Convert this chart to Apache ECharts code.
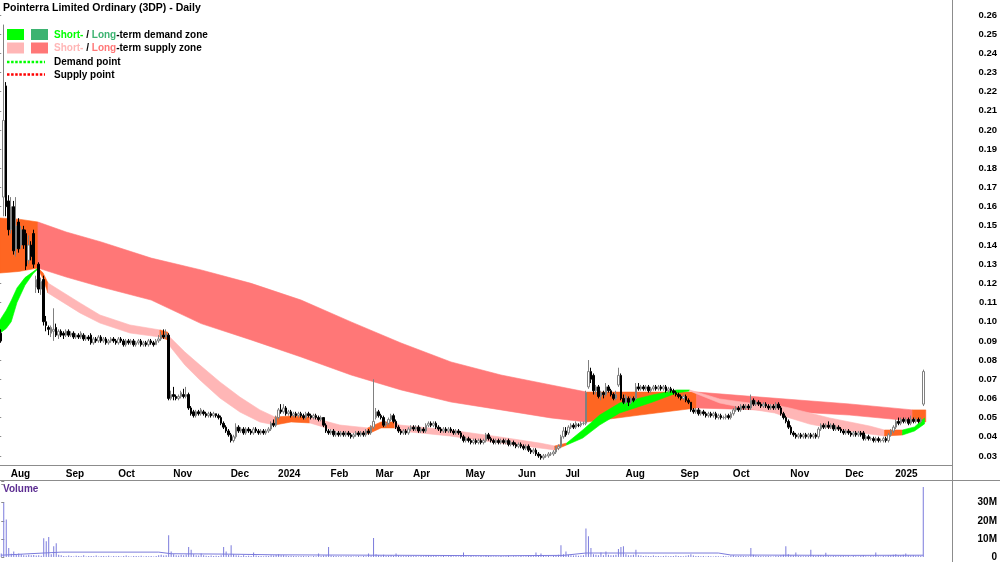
<!DOCTYPE html>
<html>
<head>
<meta charset="utf-8">
<script src="https://cdn.jsdelivr.net/npm/echarts/dist/echarts.min.js"></script>
<style>
html,body{margin:0;padding:0;background:#fff;}
#chart{width:1000px;height:562px;}
</style>
</head>
<body>
<div id="chart"></div>
<script>
// daily candles, one array per month: [open, close, low, high]
var jul23 = [[0.094,0.090,0.089,0.096],[0.165,0.205,0.155,0.255],[0.223,0.160,0.155,0.225]];
var aug23 = [[0.163,0.148,0.145,0.166],[0.148,0.160,0.146,0.165],[0.160,0.137,0.135,0.163],[0.138,0.150,0.134,0.165],
  [0.152,0.138,0.136,0.154],[0.140,0.148,0.138,0.150],[0.148,0.140,0.138,0.150],[0.146,0.129,0.127,0.148],
  [0.132,0.140,0.130,0.145],[0.140,0.134,0.132,0.142],[0.146,0.130,0.128,0.148],[0.118,0.122,0.115,0.124],
  [0.130,0.117,0.115,0.131],[0.117,0.121,0.114,0.123],[0.122,0.100,0.098,0.124],[0.100,0.098,0.095,0.103],
  [0.097,0.096,0.093,0.098],[0.094,0.097,0.092,0.098],[0.095,0.096,0.090,0.107],[0.097,0.093,0.092,0.099],
  [0.093,0.095,0.091,0.096],[0.095,0.093,0.092,0.096]];
var sep23 = [[0.094,0.093,0.091,0.095],[0.093,0.095,0.092,0.096],[0.095,0.093,0.092,0.096],[0.093,0.094,0.092,0.095],
  [0.094,0.092,0.091,0.095],[0.092,0.093,0.091,0.094],[0.093,0.092,0.091,0.094],[0.092,0.094,0.091,0.095],
  [0.093,0.091,0.090,0.094],[0.091,0.092,0.090,0.093],[0.092,0.091,0.090,0.093],[0.093,0.089,0.088,0.094],
  [0.089,0.091,0.088,0.092],[0.091,0.090,0.089,0.092],[0.090,0.092,0.089,0.093],[0.092,0.090,0.089,0.093],
  [0.090,0.091,0.089,0.092],[0.091,0.089,0.088,0.092],[0.089,0.090,0.088,0.091],[0.090,0.091,0.089,0.092],
  [0.091,0.090,0.089,0.092]];
var oct23 = [[0.090,0.089,0.088,0.091],[0.089,0.091,0.088,0.092],[0.091,0.090,0.089,0.092],[0.090,0.088,0.087,0.091],
  [0.088,0.090,0.087,0.091],[0.090,0.089,0.088,0.091],[0.089,0.090,0.088,0.091],[0.090,0.088,0.087,0.091],
  [0.088,0.089,0.087,0.090],[0.089,0.090,0.088,0.091],[0.090,0.088,0.087,0.091],[0.088,0.089,0.087,0.090],
  [0.089,0.088,0.087,0.090],[0.088,0.090,0.087,0.091],[0.090,0.089,0.088,0.091],[0.089,0.088,0.087,0.090],
  [0.088,0.090,0.088,0.091],[0.090,0.091,0.089,0.093],[0.091,0.093,0.090,0.095],[0.093,0.092,0.091,0.096],
  [0.092,0.094,0.091,0.096],[0.093,0.060,0.059,0.094]];
var nov23 = [[0.060,0.062,0.059,0.064],[0.062,0.061,0.059,0.066],[0.061,0.060,0.059,0.062],[0.060,0.061,0.059,0.062],
  [0.061,0.063,0.060,0.064],[0.062,0.061,0.060,0.065],[0.061,0.062,0.060,0.066],[0.062,0.055,0.054,0.063],
  [0.055,0.052,0.051,0.056],[0.053,0.051,0.050,0.054],[0.051,0.053,0.050,0.054],[0.053,0.052,0.051,0.054],
  [0.052,0.054,0.051,0.055],[0.053,0.052,0.051,0.054],[0.052,0.051,0.050,0.053],[0.051,0.052,0.050,0.053],
  [0.052,0.051,0.050,0.053],[0.051,0.052,0.050,0.053],[0.052,0.051,0.050,0.052],[0.051,0.050,0.049,0.052],
  [0.050,0.047,0.046,0.051],[0.047,0.045,0.044,0.048],[0.045,0.043,0.042,0.046]];
var dec23 = [[0.043,0.041,0.040,0.044],[0.041,0.038,0.037,0.042],[0.038,0.040,0.037,0.041],[0.040,0.045,0.039,0.047],
  [0.045,0.043,0.042,0.046],[0.043,0.044,0.042,0.045],[0.044,0.042,0.041,0.045],[0.042,0.044,0.041,0.045],
  [0.044,0.043,0.042,0.045],[0.043,0.042,0.041,0.044],[0.042,0.044,0.041,0.045],[0.044,0.043,0.042,0.045],
  [0.043,0.042,0.041,0.044],[0.042,0.043,0.041,0.044],[0.043,0.042,0.041,0.044],[0.042,0.043,0.041,0.044],
  [0.043,0.044,0.042,0.045],[0.044,0.047,0.043,0.048],[0.047,0.046,0.045,0.049]];
var jan24 = [[0.046,0.050,0.045,0.051],[0.050,0.054,0.049,0.055],[0.054,0.053,0.052,0.057],[0.053,0.055,0.052,0.057],
  [0.055,0.052,0.051,0.056],[0.052,0.053,0.051,0.054],[0.053,0.051,0.050,0.054],[0.051,0.052,0.050,0.053],
  [0.052,0.051,0.050,0.053],[0.051,0.052,0.050,0.053],[0.052,0.051,0.050,0.053],[0.051,0.050,0.049,0.052],
  [0.050,0.052,0.049,0.053],[0.052,0.051,0.050,0.053],[0.051,0.050,0.049,0.052],[0.050,0.051,0.049,0.052],
  [0.051,0.050,0.049,0.052],[0.050,0.049,0.048,0.051],[0.049,0.050,0.048,0.051],[0.050,0.046,0.045,0.050],
  [0.046,0.043,0.042,0.047]];
var feb24 = [[0.043,0.042,0.041,0.044],[0.042,0.043,0.041,0.044],[0.043,0.041,0.040,0.044],[0.041,0.042,0.040,0.043],
  [0.042,0.041,0.040,0.043],[0.041,0.042,0.040,0.043],[0.042,0.041,0.040,0.043],[0.041,0.042,0.040,0.043],
  [0.042,0.041,0.040,0.043],[0.041,0.040,0.039,0.042],[0.040,0.041,0.039,0.042],[0.041,0.042,0.040,0.043],
  [0.042,0.041,0.040,0.043],[0.041,0.042,0.040,0.043],[0.042,0.041,0.040,0.043],[0.041,0.043,0.040,0.044],
  [0.043,0.042,0.041,0.044],[0.042,0.045,0.041,0.046]];
var mar24 = [[0.045,0.048,0.044,0.070],[0.050,0.053,0.049,0.055],[0.053,0.051,0.050,0.054],[0.051,0.050,0.049,0.052],
  [0.050,0.046,0.045,0.051],[0.046,0.047,0.045,0.048],[0.047,0.049,0.046,0.050],[0.049,0.051,0.048,0.052],
  [0.051,0.048,0.047,0.052],[0.048,0.045,0.044,0.049],[0.045,0.043,0.042,0.046],[0.043,0.042,0.041,0.044],
  [0.042,0.043,0.041,0.044],[0.043,0.042,0.041,0.044],[0.042,0.044,0.041,0.045]];
var apr24 = [[0.044,0.045,0.043,0.046],[0.045,0.044,0.043,0.046],[0.044,0.045,0.043,0.046],[0.045,0.043,0.042,0.046],
  [0.043,0.044,0.042,0.045],[0.044,0.043,0.042,0.045],[0.043,0.046,0.042,0.047],[0.046,0.047,0.045,0.048],
  [0.047,0.046,0.045,0.048],[0.046,0.047,0.045,0.048],[0.047,0.045,0.044,0.048],[0.045,0.044,0.043,0.046],
  [0.044,0.043,0.042,0.045],[0.043,0.044,0.042,0.045],[0.044,0.043,0.042,0.045],[0.043,0.044,0.042,0.045],
  [0.044,0.043,0.042,0.045],[0.043,0.042,0.041,0.044],[0.042,0.043,0.041,0.044],[0.043,0.042,0.041,0.044],
  [0.042,0.040,0.039,0.043]];
var may24 = [[0.040,0.038,0.037,0.041],[0.038,0.039,0.037,0.040],[0.039,0.038,0.037,0.040],[0.038,0.037,0.036,0.039],
  [0.037,0.038,0.036,0.039],[0.038,0.037,0.036,0.039],[0.037,0.038,0.036,0.039],[0.038,0.037,0.036,0.039],
  [0.037,0.038,0.036,0.039],[0.038,0.041,0.037,0.042],[0.041,0.039,0.038,0.042],[0.039,0.038,0.037,0.040],
  [0.038,0.037,0.036,0.039],[0.037,0.038,0.036,0.039],[0.038,0.037,0.036,0.039],[0.037,0.038,0.036,0.039],
  [0.038,0.037,0.036,0.039],[0.037,0.038,0.036,0.039],[0.038,0.036,0.035,0.039],[0.036,0.037,0.035,0.038],
  [0.037,0.036,0.035,0.038]];
var jun24 = [[0.036,0.035,0.034,0.037],[0.035,0.036,0.034,0.037],[0.036,0.035,0.034,0.037],[0.035,0.034,0.033,0.036],
  [0.034,0.035,0.033,0.036],[0.035,0.033,0.032,0.036],[0.033,0.032,0.031,0.034],[0.032,0.033,0.031,0.034],
  [0.033,0.031,0.030,0.034],[0.031,0.030,0.029,0.032],[0.030,0.029,0.028,0.031],[0.029,0.030,0.028,0.031],
  [0.030,0.030,0.029,0.031],[0.030,0.031,0.029,0.032],[0.031,0.031,0.030,0.032],[0.031,0.032,0.030,0.033],
  [0.032,0.034,0.031,0.035],[0.034,0.035,0.033,0.036],[0.035,0.040,0.034,0.041]];
var jul24 = [[0.040,0.043,0.039,0.045],[0.043,0.041,0.040,0.045],[0.042,0.045,0.041,0.046],[0.045,0.046,0.044,0.047],
  [0.046,0.045,0.044,0.047],[0.045,0.047,0.044,0.048],[0.046,0.046,0.045,0.047],[0.046,0.047,0.045,0.048],
  [0.047,0.047,0.046,0.048],[0.047,0.063,0.046,0.064],[0.066,0.074,0.065,0.080],[0.074,0.070,0.068,0.076],
  [0.072,0.064,0.062,0.073],[0.064,0.066,0.062,0.067],[0.066,0.061,0.060,0.067],[0.061,0.063,0.059,0.064],
  [0.063,0.062,0.060,0.064],[0.062,0.066,0.061,0.068],[0.066,0.064,0.063,0.067],[0.064,0.062,0.061,0.065],
  [0.062,0.060,0.059,0.063],[0.060,0.062,0.059,0.064],[0.067,0.072,0.066,0.076],[0.072,0.060,0.059,0.073]];
var aug24 = [[0.060,0.058,0.057,0.062],[0.058,0.061,0.057,0.062],[0.060,0.058,0.056,0.061],[0.058,0.060,0.057,0.061],
  [0.060,0.059,0.058,0.061],[0.060,0.066,0.059,0.068],[0.066,0.065,0.064,0.068],[0.065,0.066,0.064,0.067],
  [0.066,0.065,0.064,0.067],[0.065,0.066,0.064,0.067],[0.066,0.064,0.063,0.067],[0.064,0.065,0.063,0.066],
  [0.065,0.066,0.064,0.067],[0.066,0.065,0.064,0.067],[0.065,0.066,0.064,0.067],[0.066,0.065,0.064,0.067],
  [0.065,0.066,0.064,0.067],[0.066,0.064,0.063,0.067],[0.064,0.065,0.063,0.066],[0.065,0.064,0.063,0.066],
  [0.064,0.063,0.062,0.065],[0.063,0.062,0.061,0.064]];
var sep24 = [[0.062,0.061,0.060,0.063],[0.061,0.060,0.059,0.062],[0.060,0.061,0.059,0.062],[0.061,0.059,0.058,0.062],
  [0.059,0.058,0.057,0.060],[0.058,0.054,0.053,0.058],[0.054,0.053,0.052,0.055],[0.053,0.054,0.052,0.055],
  [0.054,0.052,0.051,0.055],[0.052,0.053,0.051,0.054],[0.053,0.052,0.051,0.054],[0.052,0.051,0.050,0.053],
  [0.051,0.052,0.050,0.053],[0.052,0.051,0.050,0.053],[0.051,0.052,0.050,0.053],[0.052,0.050,0.049,0.053],
  [0.050,0.051,0.049,0.052],[0.051,0.050,0.049,0.052],[0.050,0.050,0.049,0.051],[0.050,0.051,0.049,0.052],
  [0.051,0.050,0.049,0.052]];
var oct24 = [[0.050,0.052,0.049,0.053],[0.052,0.054,0.051,0.055],[0.054,0.055,0.053,0.056],[0.055,0.054,0.053,0.056],
  [0.054,0.056,0.053,0.057],[0.056,0.055,0.054,0.057],[0.055,0.056,0.054,0.057],[0.056,0.055,0.054,0.057],
  [0.055,0.059,0.054,0.062],[0.059,0.057,0.056,0.060],[0.057,0.058,0.056,0.059],[0.058,0.057,0.056,0.059],
  [0.057,0.056,0.055,0.058],[0.056,0.057,0.055,0.058],[0.057,0.056,0.055,0.058],[0.056,0.055,0.054,0.057],
  [0.055,0.056,0.054,0.057],[0.056,0.055,0.054,0.057],[0.055,0.057,0.054,0.058],[0.057,0.055,0.054,0.058],
  [0.055,0.052,0.051,0.056],[0.052,0.050,0.049,0.053],[0.050,0.048,0.047,0.051]];
var nov24 = [[0.048,0.045,0.044,0.049],[0.045,0.042,0.041,0.046],[0.042,0.041,0.040,0.043],[0.041,0.040,0.039,0.042],
  [0.040,0.041,0.039,0.042],[0.041,0.040,0.039,0.042],[0.040,0.041,0.039,0.042],[0.041,0.040,0.039,0.042],
  [0.040,0.041,0.039,0.042],[0.041,0.040,0.039,0.042],[0.040,0.041,0.039,0.042],[0.041,0.040,0.039,0.042],
  [0.040,0.044,0.039,0.045],[0.044,0.046,0.043,0.047],[0.046,0.045,0.044,0.047],[0.045,0.046,0.044,0.047],
  [0.046,0.045,0.044,0.048],[0.045,0.046,0.044,0.047],[0.046,0.044,0.043,0.047],[0.044,0.045,0.043,0.046],
  [0.045,0.044,0.043,0.046],[0.044,0.043,0.042,0.045]];
var dec24 = [[0.043,0.042,0.041,0.044],[0.042,0.043,0.041,0.044],[0.043,0.042,0.041,0.044],[0.042,0.041,0.040,0.043],
  [0.041,0.042,0.040,0.043],[0.042,0.041,0.040,0.043],[0.041,0.042,0.040,0.043],[0.042,0.041,0.040,0.043],
  [0.042,0.039,0.038,0.043],[0.039,0.040,0.038,0.041],[0.040,0.039,0.038,0.041],[0.039,0.039,0.038,0.040],
  [0.039,0.038,0.037,0.040],[0.038,0.039,0.037,0.040],[0.039,0.038,0.037,0.040],[0.038,0.038,0.037,0.039],
  [0.038,0.039,0.037,0.040],[0.039,0.038,0.037,0.040],[0.038,0.041,0.037,0.042],[0.041,0.043,0.040,0.044]];
var jan25 = [[0.043,0.045,0.042,0.046],[0.045,0.048,0.044,0.049],[0.048,0.047,0.046,0.050],[0.047,0.049,0.046,0.050],
  [0.049,0.048,0.047,0.050],[0.048,0.049,0.047,0.050],[0.049,0.047,0.046,0.050],[0.047,0.049,0.046,0.051],
  [0.049,0.048,0.047,0.050],[0.048,0.049,0.047,0.050],[0.049,0.048,0.047,0.050],[0.048,0.049,0.047,0.050],
  [0.057,0.074,0.056,0.075]];

// daily volume in millions, same months
var volJul23 = [2.0,30,20.7];
var volAug23 = [5,1.8,3,1.2,2,1.5,1.0,0.8,1.2,0.9,1.1,0.8,1.0,0.7,10.3,8.7,11,1.5,6,7.6,1.2,0.9];
var volSep23 = [0.6,0.4,0.8,0.5,0.3,0.7,0.5,0.4,0.9,0.3,0.6,0.5,0.4,0.8,0.3,0.5,0.6,0.4,0.7,0.3,0.5];
var volOct23 = [0.4,0.6,0.3,0.5,0.8,0.4,0.3,0.6,0.5,0.4,0.7,0.3,0.5,0.4,0.6,0.3,0.5,0.9,1.2,0.8,1.0,12];
var volNov23 = [3,1.5,1.0,0.8,1.2,0.9,1.4,5.5,4,1.5,1.0,0.8,2,0.9,0.7,0.6,0.8,0.5,0.7,0.6,1.0,5.5,3];
var volDec23 = [1.2,6.5,1.5,1.0,0.8,0.6,0.9,0.5,0.7,0.6,2.5,0.8,0.5,0.6,0.4,0.7,0.5,1.0,0.8];
var volJan24 = [1.2,1.5,1.0,0.9,0.8,0.6,0.7,0.5,0.6,0.4,0.5,0.6,0.4,0.5,0.3,0.6,0.4,2,0.5,0.8,1.0];
var volFeb24 = [5.5,0.8,0.5,0.6,0.4,0.5,0.3,0.6,0.4,0.5,0.3,0.4,0.6,0.3,0.5,0.4,2,0.8];
var volMar24 = [10.5,1.5,1.0,0.8,1.2,0.6,0.7,0.9,0.6,2,0.8,0.5,0.4,0.6,0.5];
var volApr24 = [0.5,0.4,0.6,0.3,0.5,0.4,0.9,0.8,0.5,0.4,0.6,0.3,0.4,0.5,0.3,0.4,0.5,0.3,0.4,0.3,0.6];
var volMay24 = [2.5,0.4,0.3,0.5,0.3,0.4,0.3,0.5,0.3,0.9,0.6,0.4,0.3,0.4,0.3,0.5,0.3,0.4,0.7,0.3,0.4];
var volJun24 = [0.4,0.3,0.5,0.3,0.4,0.6,0.5,0.4,2.5,0.5,2,0.6,0.4,0.5,0.3,0.6,0.9,1.2,6.5];
var volJul24 = [1.5,3,1.2,1.0,0.8,0.9,0.7,0.8,1.0,15.8,11.5,5,1.5,1.2,1.0,2.5,1.0,3,1.2,0.9,1.0,1.2,4.4,5.5];
var volAug24 = [6,1.5,1.0,0.9,1.2,4,1.0,0.8,0.6,0.7,0.5,0.6,0.8,0.5,0.6,0.4,0.5,0.7,0.4,0.6,0.5,0.8];
var volSep24 = [0.6,0.5,0.4,0.7,0.9,1.5,0.8,0.5,0.6,0.4,0.5,0.3,0.5,0.4,0.3,0.6,0.4,0.3,0.5,0.4,0.3];
var volOct24 = [0.8,1.0,0.6,0.5,0.7,0.5,0.6,0.4,5,1.2,0.8,0.6,0.5,0.4,0.6,0.5,0.4,0.3,0.7,0.5,0.9,1.2,6];
var volNov24 = [1.5,1.0,0.8,2.5,0.6,0.5,0.4,0.5,0.6,4,0.8,0.5,1.0,0.9,0.6,2.3,0.5,0.4,0.6,0.5,0.4,0.5];
var volDec24 = [0.5,0.4,0.6,0.3,0.5,0.4,0.3,0.5,0.9,0.4,0.3,0.5,0.4,2.5,0.4,0.3,0.5,0.4,0.8,1.0];
var volJan25 = [1.2,1.5,1.0,0.9,1.2,2,1.0,0.8,0.9,0.7,0.8,0.6,38.7];

// volume average line: [day index, millions]
var volAvg = [[0,1.0],[24,2.7],[63,2.7],[68,1.8],[90,1.6],[110,1.2],[150,1.0],[200,0.7],[225,0.9],
  [234,2.2],[287,2.2],[292,1.1],[340,0.9],[369,1.0]];

// zones: [day index, upper, lower]
var longOrange1 = [[-0.5,0.1541,0.1254],[7,0.1535,0.1262],[14.7,0.152,0.128]];
var longSupply1 = [[14.7,0.152,0.128],[26,0.1468,0.1233],[40,0.1416,0.1181],[60,0.1332,0.1113],[80,0.127,0.099],
  [100,0.120,0.0905],[120,0.1113,0.0816],[140,0.0999,0.0722],[160,0.0889,0.0644],[180,0.079,0.0581],
  [200,0.0722,0.054],[220,0.067,0.0498],[234.3,0.0633,0.0477]];
var longOrange2 = [[234.3,0.0633,0.0477],[255.5,0.0633,0.0513],[278.3,0.0633,0.055]];
var longSupply2 = [[278.3,0.0633,0.055],[303.5,0.0607,0.054],[339.5,0.0571,0.0513],[364.7,0.054,0.0482]];
var longOrange3 = [[364.7,0.054,0.0482],[370,0.054,0.0477]];

var shortDemand1 = [[-0.5,0.1009,0.094],[2,0.106,0.0965],[4,0.111,0.100],[6.3,0.1176,0.110],[9.5,0.123,0.119],
  [12.7,0.126,0.125],[14.7,0.128,0.1275]];
var shortOrange1 = [[14.7,0.128,0.1275],[16.7,0.1255,0.1225],[18.7,0.1202,0.115]];
var shortSupply1 = [[18.7,0.1202,0.115],[31.5,0.1098,0.1046],[39.5,0.1035,0.0993],[51.5,0.0983,0.0941],[63.5,0.0957,0.092]];
var shortOrange2 = [[63.5,0.0957,0.092],[66.7,0.0945,0.0905]];
var shortSupply2 = [[66.7,0.093,0.0885],[73.5,0.0842,0.0774],[79.5,0.0774,0.0696],[87.5,0.0686,0.0602],
  [95.5,0.0607,0.0529],[103.5,0.054,0.0477],[109.5,0.0503,0.0461]];
var shortOrange3 = [[109.5,0.0503,0.0461],[116,0.0508,0.0477],[123.5,0.0503,0.0472]];
var shortSupply3 = [[123.5,0.0503,0.0472],[135.5,0.0461,0.0425],[146.7,0.0446,0.0414]];
var shortOrange4 = [[146.7,0.0446,0.0414],[152,0.0477,0.0446],[157.5,0.0477,0.0446]];
var shortSupply4 = [[157.5,0.0477,0.0446],[159.5,0.0461,0.043],[179.5,0.0435,0.0404],[199.5,0.0399,0.0367],
  [215.5,0.0367,0.0341],[221.5,0.0352,0.0331]];
var shortOrange5 = [[221.5,0.0352,0.0331],[226.3,0.0367,0.0357]];
var shortDemand2 = [[226.3,0.0367,0.0357],[232.7,0.0435,0.0393],[239.5,0.0513,0.0461],[247.5,0.0576,0.0524],
  [260.7,0.0618,0.0581],[270.3,0.0644,0.0628],[275.5,0.0644,0.0639]];
var shortSupply5 = [[275.5,0.0644,0.0639],[287.5,0.0597,0.0576],[299.5,0.0576,0.0545],[309.5,0.0566,0.0524],
  [315.5,0.055,0.0498],[323.5,0.0524,0.0466],[331.5,0.0498,0.0446],[339.5,0.0477,0.043],[347.5,0.0456,0.0414],
  [353.5,0.0435,0.0404]];
var shortOrange6 = [[353.5,0.0435,0.0404],[360.7,0.0435,0.0409]];
var shortDemand3 = [[360.7,0.0435,0.0409],[365.5,0.0451,0.043],[369.5,0.0498,0.0467]];

var months = [jul23,aug23,sep23,oct23,nov23,dec23,jan24,feb24,mar24,apr24,may24,jun24,jul24,aug24,sep24,oct24,nov24,dec24,jan25];
var monthVols = [volJul23,volAug23,volSep23,volOct23,volNov23,volDec23,volJan24,volFeb24,volMar24,volApr24,volMay24,
  volJun24,volJul24,volAug24,volSep24,volOct24,volNov24,volDec24,volJan25];
var monthLabels = ['','Aug','Sep','Oct','Nov','Dec','2024','Feb','Mar','Apr','May','Jun','Jul','Aug','Sep','Oct','Nov','Dec','2025'];
var emptyDays = 11;

var ORANGE = '#ff6622', SALMON = '#ff7777', PINK = '#ffb6b6', GREEN = '#00ff00', DKGREEN = '#3cb371';
var FONT = '"Liberation Sans", Arial, sans-serif';

var categories = [], candles = [], volumes = [], labelAt = {};
months.forEach(function (m, mi) {
  if (monthLabels[mi]) labelAt[categories.length] = monthLabels[mi];
  m.forEach(function (c, j) {
    categories.push(mi + '-' + j);
    candles.push(c);
    volumes.push(monthVols[mi][j]);
  });
});
for (var i = 0; i < emptyDays; i++) categories.push('x' + i);

function isMonthStart(idx) { return labelAt[idx] !== undefined; }

function zone(pts, color, z) {
  return {
    type: 'custom', xAxisIndex: 1, yAxisIndex: 0, z: z, silent: true,
    data: [[pts[0][0], pts[0][1]]],
    renderItem: function (params, api) {
      var poly = [];
      pts.forEach(function (p) { poly.push(api.coord([p[0], p[1]])); });
      for (var k = pts.length - 1; k >= 0; k--) poly.push(api.coord([pts[k][0], pts[k][2]]));
      return { type: 'polygon', shape: { points: poly }, style: { fill: color, stroke: color, lineWidth: 0.6 } };
    }
  };
}

var chart = echarts.init(document.getElementById('chart'));
var option = {
  animation: false,
  backgroundColor: '#fff',
  grid: [
    { left: 0, right: 48, top: 0, height: 465 },
    { left: 0, right: 48, top: 481, height: 77 }
  ],
  xAxis: [
    {
      type: 'category', gridIndex: 0, data: categories, boundaryGap: true,
      axisLine: { lineStyle: { color: '#8c8c8c', width: 1 } },
      axisTick: { inside: true, length: 3, interval: function (i) { return isMonthStart(i); }, lineStyle: { color: '#8c8c8c' } },
      axisLabel: {
        interval: function (i) { return isMonthStart(i); },
        formatter: function (v, i) { return labelAt[i] || ''; },
        align: 'left', padding: [0, 0, 0, 2], margin: 4,
        fontFamily: FONT, fontWeight: 'bold', fontSize: 10, color: '#000'
      },
      splitLine: { show: false }
    },
    { type: 'value', gridIndex: 0, min: -0.5, max: categories.length - 0.5, show: false },
    { type: 'category', gridIndex: 1, data: categories, boundaryGap: true, show: false },
    { type: 'value', gridIndex: 1, min: -0.5, max: categories.length - 0.5, show: false }
  ],
  yAxis: [
    {
      type: 'value', gridIndex: 0, position: 'right', min: 0.02525, max: 0.26782,
      splitNumber: 24, minInterval: 0.01, maxInterval: 0.01, scale: true,
      axisLine: { show: false },
      axisTick: { inside: true, length: 4, lineStyle: { color: '#8c8c8c' } },
      axisLabel: {
        showMinLabel: false, showMaxLabel: false, align: 'right', margin: 45,
        formatter: function (v) { return Math.abs(v * 100 - Math.round(v * 100)) < 1e-6 ? v.toFixed(2) : ''; },
        fontFamily: FONT, fontWeight: 'bold', fontSize: 9.5, color: '#000'
      },
      splitLine: { show: false }
    },
    {
      type: 'value', gridIndex: 1, position: 'right', min: 0, max: 42, interval: 10,
      axisLine: { show: false },
      axisTick: { inside: false, length: 3, lineStyle: { color: '#8c8c8c' } },
      axisLabel: {
        align: 'right', margin: 45,
        formatter: function (v) { return v === 0 ? '0' : (v <= 30 ? v + 'M' : ''); },
        fontFamily: FONT, fontWeight: 'bold', fontSize: 10, color: '#000'
      },
      splitLine: { show: false }
    }
  ],
  series: [
    zone(longOrange1, ORANGE, 1), zone(longSupply1, SALMON, 1), zone(longOrange2, ORANGE, 1),
    zone(longSupply2, SALMON, 1), zone(longOrange3, ORANGE, 1),
    zone(shortDemand1, GREEN, 2), zone(shortOrange1, ORANGE, 2), zone(shortSupply1, PINK, 2),
    zone(shortOrange2, ORANGE, 2), zone(shortSupply2, PINK, 2), zone(shortOrange3, ORANGE, 2),
    zone(shortSupply3, PINK, 2), zone(shortOrange4, ORANGE, 2), zone(shortSupply4, PINK, 2),
    zone(shortOrange5, ORANGE, 2), zone(shortDemand2, GREEN, 2), zone(shortSupply5, PINK, 2),
    zone(shortOrange6, ORANGE, 2), zone(shortDemand3, GREEN, 2),
    {
      type: 'candlestick', xAxisIndex: 0, yAxisIndex: 0, z: 5, data: candles,
      barWidth: 2, barMinWidth: 2,
      itemStyle: { color: '#ffffff', color0: '#000000', borderColor: '#808080', borderColor0: '#000000', borderWidth: 1 }
    },
    {
      type: 'bar', xAxisIndex: 2, yAxisIndex: 1, data: volumes, barWidth: 1,
      itemStyle: { color: '#7b7bdc' }
    },
    {
      type: 'line', xAxisIndex: 3, yAxisIndex: 1, data: volAvg, symbol: 'none',
      lineStyle: { color: '#7b7bdc', width: 1 }
    }
  ],
  graphic: [
    { type: 'line', shape: { x1: 952.5, y1: 0, x2: 952.5, y2: 562 }, style: { stroke: '#8c8c8c', lineWidth: 1 } },
    { type: 'line', shape: { x1: 0, y1: 480.5, x2: 1000, y2: 480.5 }, style: { stroke: '#8c8c8c', lineWidth: 1 } },
    { type: 'text', x: 3, y: 8, style: { text: 'Pointerra Limited Ordinary (3DP) - Daily', font: 'bold 10.5px ' + FONT, fill: '#000', verticalAlign: 'middle' } },
    { type: 'text', x: 3, y: 489, style: { text: 'Volume', font: 'bold 10px ' + FONT, fill: '#5c2d91', verticalAlign: 'middle' } },
    { type: 'rect', shape: { x: 7, y: 29, width: 17, height: 11 }, style: { fill: GREEN } },
    { type: 'rect', shape: { x: 31, y: 29, width: 17, height: 11 }, style: { fill: DKGREEN } },
    { type: 'rect', shape: { x: 7, y: 42.5, width: 17, height: 11 }, style: { fill: PINK } },
    { type: 'rect', shape: { x: 31, y: 42.5, width: 17, height: 11 }, style: { fill: SALMON } },
    { type: 'line', shape: { x1: 7, y1: 62, x2: 45, y2: 62 }, style: { stroke: GREEN, lineWidth: 2.5, lineDash: [2.5, 1.6] } },
    { type: 'line', shape: { x1: 7, y1: 74.5, x2: 45, y2: 74.5 }, style: { stroke: '#ff0000', lineWidth: 2.5, lineDash: [2.5, 1.6] } },
    { type: 'text', x: 54, y: 35, style: { text: '{g|Short-} / {d|Long}-term demand zone', font: 'bold 10px ' + FONT, fill: '#000', verticalAlign: 'middle',
      rich: { g: { fill: GREEN, font: 'bold 10px ' + FONT }, d: { fill: DKGREEN, font: 'bold 10px ' + FONT } } } },
    { type: 'text', x: 54, y: 48, style: { text: '{p|Short-} / {s|Long}-term supply zone', font: 'bold 10px ' + FONT, fill: '#000', verticalAlign: 'middle',
      rich: { p: { fill: PINK, font: 'bold 10px ' + FONT }, s: { fill: SALMON, font: 'bold 10px ' + FONT } } } },
    { type: 'text', x: 54, y: 62, style: { text: 'Demand point', font: 'bold 10px ' + FONT, fill: '#000', verticalAlign: 'middle' } },
    { type: 'text', x: 54, y: 75, style: { text: 'Supply point', font: 'bold 10px ' + FONT, fill: '#000', verticalAlign: 'middle' } }
  ]
};
chart.setOption(option);
</script>
</body>
</html>
